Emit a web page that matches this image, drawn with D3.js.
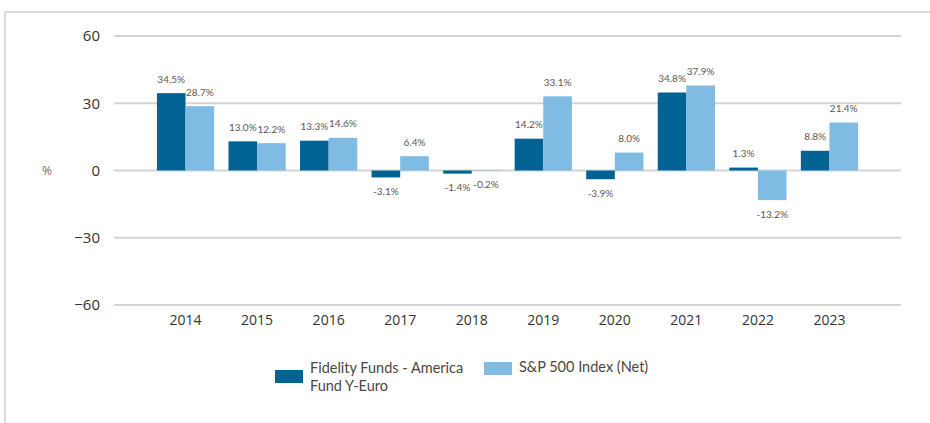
<!DOCTYPE html>
<html>
<head>
<meta charset="utf-8">
<title>Annual performance</title>
<style>
  body { margin: 0; background: #fff; }
  svg { display: block; }
</style>
</head>
<body>
<script src="https://d3js.org/d3.v7.min.js"></script>
<script>
const years = ["2014", "2015", "2016", "2017", "2018", "2019", "2020", "2021", "2022", "2023"];
const fundValues = [34.5, 13.0, 13.3, -3.1, -1.4, 14.2, -3.9, 34.8, 1.3, 8.8];
const indexValues = [28.7, 12.2, 14.6, 6.4, -0.2, 33.1, 8.0, 37.9, -13.2, 21.4];
const yTicks = [60, 30, 0, -30, -60];
const seriesNames = ["Fidelity Funds - America Fund Y-Euro", "S&P 500 Index (Net)"];

const w = 930, h = 423;
const colors = ["#006394", "#7fbbe2"];

const svg = d3.select("body").append("svg")
  .attr("width", w)
  .attr("height", h);

// frame
svg.append("path")
  .attr("d", `M5,${h} L5,12 L${w},12`)
  .attr("fill", "none")
  .attr("stroke", "#dcdcdc")
  .attr("stroke-width", 2);

const x = d3.scaleBand()
  .domain(years)
  .range([114, 901])
  .paddingInner(0.2)
  .paddingOuter(0.6);

const xs = d3.scaleBand()
  .domain([0, 1])
  .range([0, x.bandwidth()]);

const y = d3.scaleLinear()
  .domain([-60, 60])
  .range([305, 36]);

// gridlines
svg.append("g").selectAll("line")
  .data(yTicks)
  .join("line")
  .attr("x1", 114)
  .attr("x2", 901)
  .attr("y1", d => y(d))
  .attr("y2", d => y(d))
  .attr("stroke", "#d4d4d4")
  .attr("stroke-width", 2);

const yAxis = svg.append("g")
  .attr("transform", "translate(100,0)")
  .call(d3.axisLeft(y).tickValues(yTicks).tickSize(0).tickPadding(0));
yAxis.select(".domain").remove();
yAxis.selectAll("text")
  .attr("font-family", "Open Sans, sans-serif")
  .attr("font-size", 15)
  .attr("fill", "#333");

const xAxis = svg.append("g")
  .attr("transform", "translate(0,313)")
  .call(d3.axisBottom(x).tickSize(0).tickPadding(2));
xAxis.select(".domain").remove();
xAxis.selectAll("text")
  .attr("font-family", "Open Sans, sans-serif")
  .attr("font-size", 14)
  .attr("fill", "#333");

svg.append("text")
  .attr("x", 47)
  .attr("y", y(0))
  .attr("dy", "0.35em")
  .attr("text-anchor", "middle")
  .attr("font-family", "Open Sans, sans-serif")
  .attr("font-size", 12)
  .attr("fill", "#7a6d62")
  .text("%");

const rows = [];
years.forEach((yr, i) => {
  rows.push({ year: yr, s: 0, v: fundValues[i] });
  rows.push({ year: yr, s: 1, v: indexValues[i] });
});

svg.append("g").selectAll("rect")
  .data(rows)
  .join("rect")
  .attr("x", d => x(d.year) + xs(d.s))
  .attr("width", xs.bandwidth())
  .attr("y", d => y(Math.max(0, d.v)))
  .attr("height", d => Math.abs(y(d.v) - y(0)))
  .attr("fill", d => colors[d.s]);

svg.append("g").selectAll("text")
  .data(rows)
  .join("text")
  .attr("x", d => x(d.year) + xs(d.s) + xs.bandwidth() / 2)
  .attr("y", d => d.v >= 0 ? y(d.v) - 14 : y(d.v) + 14)
  .attr("dy", "0.35em")
  .attr("text-anchor", "middle")
  .attr("font-family", "Lato, sans-serif")
  .attr("font-size", 10)
  .attr("fill", "#5e5650")
  .text(d => d.v.toFixed(1) + "%");

// legend
const legend = svg.append("g")
  .attr("font-family", "Lato, sans-serif")
  .attr("font-size", 14.5)
  .attr("fill", "#4d453e");

legend.append("rect")
  .attr("x", 275).attr("y", 370).attr("width", 28).attr("height", 13)
  .attr("fill", colors[0]);
legend.append("text")
  .attr("x", 310).attr("y", 373)
  .text("Fidelity Funds - America");
legend.append("text")
  .attr("x", 310).attr("y", 391)
  .text("Fund Y-Euro");

legend.append("rect")
  .attr("x", 484).attr("y", 362).attr("width", 28).attr("height", 13)
  .attr("fill", colors[1]);
legend.append("text")
  .attr("x", 519).attr("y", 372)
  .text(seriesNames[1]);
</script>
</body>
</html>
